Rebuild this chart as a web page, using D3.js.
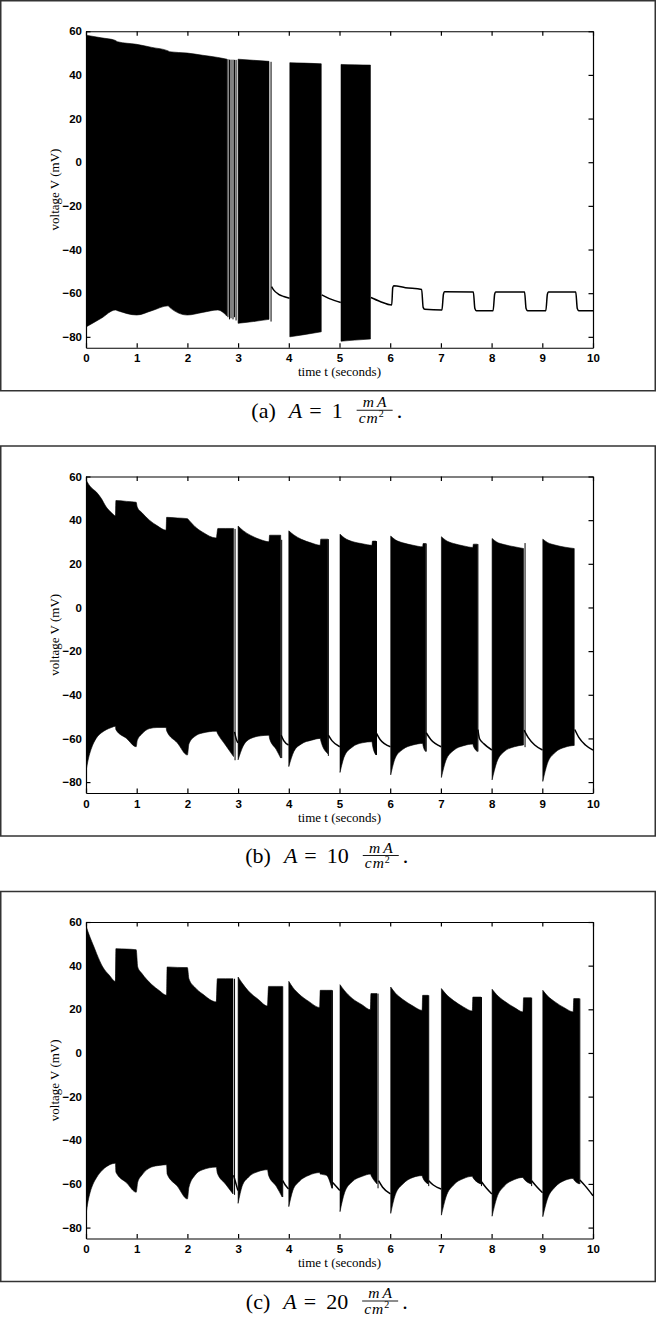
<!DOCTYPE html>
<html>
<head>
<meta charset="utf-8">
<script src="https://cdnjs.cloudflare.com/ajax/libs/d3/7.8.5/d3.min.js"></script>
<style>
body { margin: 0; background: #fff; }
svg { display: block; }
</style>
</head>
<body>
<div id="chart"></div>
<script>
// axis ticks and labels
var xTicks = [0, 1, 2, 3, 4, 5, 6, 7, 8, 9, 10];
var yTicks = [-80, -60, -40, -20, 0, 20, 40, 60];
var xLabel = "time t (seconds)";
var yLabel = "voltage V (mV)";
var panelLetters = ["a", "b", "c"];
var amplitudes = ["1", "10", "20"];

// bursting regions: [t, lower envelope, upper envelope]
var burstsA = [
	[[0, -75.5, 58.2], [0.3, -71.5, 57], [0.58, -67.7, 55.8], [0.62, -68, 55.2], [1.0, -70, 54], [1.3, -68, 52.6], [1.62, -65.8, 51], [1.65, -66.5, 50.6], [2.0, -70, 50], [2.3, -68.8, 49], [2.6, -67.7, 48], [2.78, -70.5, 47.2]],
	[[3.0, -73.8, 47.2], [3.3, -73, 46.7], [3.61, -72, 46.2]],
	[[4.02, -80, 45.6], [4.3, -79, 45.4], [4.64, -77.7, 45.1]],
	[[5.03, -82, 44.8], [5.3, -81.5, 44.6], [5.61, -81, 44.5]]
];
var quietA = [
	[[3.66, -57], [3.7, -58.5], [3.8, -60.5], [3.9, -61.5], [4.015, -62.3]],
	[[4.65, -60.8], [4.8, -62.5], [5.025, -64.3]],
	[[5.62, -62], [5.8, -63.8], [6.03, -65.4], [6.05, -57.5], [6.07, -56.6], [6.3, -57.5], [6.62, -58.3], [6.65, -66.5], [6.68, -67.4], [7.02, -67.7], [7.05, -60.5], [7.07, -59.4], [7.64, -59.5], [7.67, -67], [7.7, -68], [8.03, -68], [8.06, -60.5], [8.08, -59.5], [8.65, -59.5], [8.68, -67], [8.71, -68], [9.07, -68], [9.1, -60.5], [9.12, -59.5], [9.66, -59.5], [9.69, -67], [9.72, -68], [10, -68]]
];
var spikesA = [[2.8, -71, 47.2], [2.83, -72, 47], [2.86, -71.5, 47], [2.9, -72, 47], [2.93, -71, 46.9], [2.96, -72.5, 46.9], [3.65, -73, 46]];

var burstsB = [
	[[0, -75, 58.5], [0.05, -69, 56.5], [0.1, -65, 55], [0.2, -60, 53], [0.3, -57.5, 50], [0.4, -56, 46], [0.5, -55, 43.5], [0.58, -54.4, 42], [0.59, -56, 49], [0.8, -60, 48.6], [0.99, -63.8, 48.2], [1.01, -61, 46], [1.1, -58, 43.5], [1.25, -55.5, 40], [1.4, -55, 37.5], [1.58, -55, 35.4], [1.59, -56.5, 41.3], [1.8, -62, 41], [2.0, -67.6, 40.7], [2.03, -62.5, 40], [2.15, -59, 37], [2.3, -57.5, 34.5], [2.57, -56.7, 31.8], [2.6, -58, 36.2], [2.75, -63, 36.2], [2.91, -68.3, 36.2]],
	[[3.0, -69.8, 37.3], [3.1, -63.5, 35.2], [3.25, -60, 33], [3.45, -58.8, 31], [3.61, -58.5, 30.1], [3.62, -60, 33.1], [3.75, -65, 33.1], [3.84, -69, 33.1]],
	[[4.0, -72.9, 35.1], [4.1, -66, 33.2], [4.25, -62.5, 31.2], [4.45, -60.8, 29.5], [4.62, -60, 28.5], [4.63, -61, 31.3], [4.77, -67, 31.3]],
	[[5.01, -75.6, 33.6], [5.1, -68, 31.8], [5.25, -64, 30.2], [5.45, -62, 29.2], [5.64, -61.5, 28.5], [5.65, -63, 30.4], [5.72, -67.6, 30.4]],
	[[6.01, -76.7, 32.7], [6.1, -69, 31], [6.25, -65, 29.6], [6.45, -63, 28.5], [6.64, -62.3, 27.8], [6.65, -63.5, 29.3], [6.7, -66, 29.3]],
	[[7.01, -77.9, 32.4], [7.1, -70, 30.7], [7.25, -65.5, 29.3], [7.45, -63.3, 28.2], [7.63, -62.6, 27.5], [7.64, -63.5, 29], [7.72, -66, 29]],
	[[8.01, -79, 31.6], [8.1, -71, 30], [8.25, -66, 28.8], [8.45, -63.8, 27.8], [8.63, -63, 27]],
	[[9.01, -79.7, 31.3], [9.1, -71.5, 29.8], [9.25, -66.5, 28.6], [9.45, -64, 27.6], [9.63, -63.2, 27]]
];
var quietB = [
	[[2.93, -57], [2.96, -60], [2.995, -62]],
	[[3.85, -58.5], [3.9, -61], [3.995, -63]],
	[[4.78, -58.5], [4.85, -61], [5.005, -63.8]],
	[[5.73, -57.7], [5.8, -60.5], [6.005, -63.8]],
	[[6.71, -57.4], [6.8, -60.5], [7.005, -63.8]],
	[[7.73, -56], [7.76, -60], [7.85, -62.5], [8.005, -65.3]],
	[[8.64, -56.2], [8.72, -59.5], [8.85, -63], [9.005, -65.3]],
	[[9.64, -55.9], [9.72, -59.5], [9.85, -63], [10, -65.3]]
];
var spikesB = [[2.94, -70, 36], [3.86, -69, 31], [4.78, -68, 31.3], [5.73, -67.6, 30.4], [6.71, -66, 29.3], [7.73, -66, 29], [8.66, -64, 29.5]];

var burstsC = [
	[[0, -74, 58.5], [0.04, -68, 55.5], [0.08, -64, 53], [0.15, -59.5, 49], [0.21, -57, 45.5], [0.33, -53.5, 39.4], [0.46, -51.3, 35.6], [0.58, -50.5, 32.8], [0.59, -54.6, 47.8], [0.8, -59.5, 47.6], [0.99, -63.8, 47.3], [1.02, -59.2, 39.4], [1.1, -56, 36.5], [1.29, -52.3, 31.5], [1.45, -51.5, 28.5], [1.59, -51.2, 26.4], [1.6, -55.4, 39.4], [1.8, -61, 39.2], [2.0, -66.9, 39.1], [2.03, -61.5, 34], [2.15, -56, 30], [2.3, -53.5, 27], [2.57, -52.3, 23.4], [2.59, -55, 34], [2.75, -60, 34], [2.9, -64.6, 34]],
	[[3.0, -68.9, 34.8], [3.08, -61, 32], [3.2, -57, 28.5], [3.4, -54.3, 24.5], [3.58, -53.5, 21.5], [3.6, -56, 30.5], [3.75, -61, 30.5], [3.87, -66, 30.5]],
	[[4.0, -70.4, 32.8], [4.08, -63, 30], [4.2, -59, 27], [4.4, -56, 23.5], [4.61, -54.8, 20.8], [4.62, -55.5, 28.7], [4.74, -56, 28.7], [4.85, -62, 28.7]],
	[[5.01, -72.7, 31.3], [5.1, -64, 28.5], [5.25, -59, 25], [5.45, -56.5, 22], [5.61, -55.5, 19.8], [5.62, -56, 27.2], [5.74, -60, 27.2]],
	[[6.01, -73.5, 30.2], [6.1, -65, 27.5], [6.25, -60, 24.5], [6.45, -57, 21.5], [6.63, -56.2, 19.5], [6.64, -57, 26.4], [6.75, -60, 26.4]],
	[[7.01, -74.3, 29.5], [7.1, -66, 27], [7.25, -60.5, 24], [7.45, -57.5, 21], [7.62, -56.5, 19.2], [7.63, -57, 25.6], [7.79, -60, 25.6]],
	[[8.01, -74.8, 29.2], [8.1, -66.5, 26.7], [8.25, -61, 23.8], [8.45, -58, 20.8], [8.62, -57, 18.8], [8.63, -57.5, 25.3], [8.78, -60, 25.3]],
	[[9.01, -75, 28.7], [9.1, -67, 26.2], [9.25, -61.5, 23.4], [9.45, -58.3, 20.5], [9.61, -57.5, 18.8], [9.62, -58, 24.9], [9.73, -60, 24.9]]
];
var quietC = [
	[[2.91, -56], [2.96, -60], [2.995, -63]],
	[[3.88, -58.5], [3.93, -60.5], [3.995, -62.3]],
	[[4.86, -59.2], [4.95, -61.5], [5.005, -63]],
	[[5.77, -58.5], [5.85, -61.5], [6.005, -64.6]],
	[[6.76, -58.5], [6.85, -60.5], [7.005, -62.3]],
	[[7.8, -59], [7.9, -62], [8.005, -64.6]],
	[[8.79, -58.5], [8.9, -61.5], [9.005, -64]],
	[[9.74, -58.2], [9.85, -61], [10, -65.4]]
];
var spikesC = [[2.93, -65, 34], [3.88, -66, 30.5], [4.86, -62, 28.7], [5.76, -62, 27.2], [6.76, -61, 26.4], [7.8, -61, 25.6], [8.79, -61, 25.3], [9.74, -60, 24.9]];

var panels = [
	{ bursts: burstsA, quiet: quietA, spikes: spikesA },
	{ bursts: burstsB, quiet: quietB, spikes: spikesB },
	{ bursts: burstsC, quiet: quietC, spikes: spikesC }
];

var width = 657, height = 1318;
var panelTops = [0.75, 446, 891.5];
var plot = { left: 86, right: 593, top: 30.5, bottom: 347 };

var svg = d3.select("#chart").append("svg")
	.attr("width", width).attr("height", height);

var x = d3.scaleLinear().domain([0, 10]).range([plot.left, plot.right]);
var y = d3.scaleLinear().domain([-85, 60]).range([plot.bottom, plot.top]);

var area = d3.area()
	.x(function (d) { return x(d[0]); })
	.y0(function (d) { return y(d[1]); })
	.y1(function (d) { return y(d[2]); })
	.curve(d3.curveMonotoneX);

var line = d3.line()
	.x(function (d) { return x(d[0]); })
	.y(function (d) { return y(d[1]); })
	.curve(d3.curveMonotoneX);

svg.append("clipPath").attr("id", "plotclip").append("rect")
	.attr("x", plot.left).attr("y", plot.top)
	.attr("width", plot.right - plot.left).attr("height", plot.bottom - plot.top);

function styleAxis(sel) {
	sel.attr("font-family", null).attr("font-size", null);
	sel.selectAll("path, line").attr("stroke", "#000").attr("stroke-width", 1.2);
	sel.selectAll("text")
		.attr("fill", "#000")
		.style("font-family", "'Liberation Sans', Arial, sans-serif")
		.style("font-weight", "bold")
		.style("font-size", "11.5px");
}

panels.forEach(function (p, i) {
	var g = svg.append("g").attr("transform", "translate(0," + panelTops[i] + ")");

	// outer frame
	g.append("rect")
		.attr("x", 0.75).attr("y", 0)
		.attr("width", 654.5).attr("height", 390)
		.attr("fill", "none").attr("stroke", "#333").attr("stroke-width", 1.5);

	var marks = g.append("g").attr("clip-path", "url(#plotclip)");

	marks.selectAll(".burst").data(p.bursts).enter().append("path")
		.attr("class", "burst")
		.attr("d", area)
		.attr("fill", "#000").attr("stroke", "#000").attr("stroke-width", 0.6);

	marks.selectAll(".spike").data(p.spikes).enter().append("line")
		.attr("class", "spike")
		.attr("x1", function (d) { return x(d[0]); })
		.attr("x2", function (d) { return x(d[0]); })
		.attr("y1", function (d) { return y(d[1]); })
		.attr("y2", function (d) { return y(d[2]); })
		.attr("stroke", "#000").attr("stroke-width", 1);

	marks.selectAll(".quiet").data(p.quiet).enter().append("path")
		.attr("class", "quiet")
		.attr("d", line)
		.attr("fill", "none").attr("stroke", "#000").attr("stroke-width", 1.5);

	// box axes, ticks pointing inward
	g.append("g").attr("transform", "translate(0," + plot.bottom + ")")
		.call(d3.axisBottom(x).tickValues(xTicks).tickSize(-4.5).tickSizeOuter(0).tickPadding(6.5).tickFormat(d3.format("d")))
		.call(styleAxis);
	g.append("g").attr("transform", "translate(" + plot.left + ",0)")
		.call(d3.axisLeft(y).tickValues(yTicks).tickSize(-4.5).tickSizeOuter(0).tickPadding(4).tickFormat(d3.format("d")))
		.call(styleAxis);
	g.append("g").attr("transform", "translate(0," + plot.top + ")")
		.call(d3.axisTop(x).tickValues(xTicks).tickSize(-4.5).tickSizeOuter(0).tickFormat(""))
		.call(styleAxis);
	g.append("g").attr("transform", "translate(" + plot.right + ",0)")
		.call(d3.axisRight(y).tickValues(yTicks).tickSize(-4.5).tickSizeOuter(0).tickFormat(""))
		.call(styleAxis);

	g.append("text")
		.attr("x", (plot.left + plot.right) / 2).attr("y", plot.bottom + 28.5)
		.attr("text-anchor", "middle")
		.style("font-family", "'Liberation Serif', 'Times New Roman', serif")
		.style("font-size", "13px")
		.text(xLabel);

	g.append("text")
		.attr("transform", "translate(59," + ((plot.top + plot.bottom) / 2) + ") rotate(-90)")
		.attr("text-anchor", "middle")
		.style("font-family", "'Liberation Serif', 'Times New Roman', serif")
		.style("font-size", "13px")
		.text(yLabel);

	// caption: (a) A = 1 mA/cm^2.
	drawCaption(svg, panelLetters[i], amplitudes[i], panelTops[i] + 390 + 27);
});

function drawCaption(parent, letter, amp, base) {
	var cg = parent.append("g").style("font-family", "'Liberation Serif', 'Times New Roman', serif");
	var cursor = 0;
	function piece(txt, italic, gapAfter) {
		var t = cg.append("text").attr("x", cursor).attr("y", base)
			.style("font-size", "22px")
			.style("font-style", italic ? "italic" : "normal")
			.text(txt);
		cursor += t.node().getComputedTextLength() + gapAfter;
	}
	piece("(" + letter + ")", false, 13);
	piece("A", true, 7);
	piece("=", false, 10);
	piece(amp, false, 14);

	var fw = 36, barY = base - 7.5;
	cg.append("text").attr("x", cursor + fw / 2).attr("y", barY - 3)
		.attr("text-anchor", "middle")
		.style("font-size", "15.5px").style("font-style", "italic")
		.text("m\u2009A");
	cg.append("line")
		.attr("x1", cursor).attr("x2", cursor + fw)
		.attr("y1", barY).attr("y2", barY)
		.attr("stroke", "#000").attr("stroke-width", 0.9);
	var den = cg.append("text").attr("x", cursor + 2).attr("y", barY + 12.5)
		.style("font-size", "15.5px").style("font-style", "italic");
	den.append("tspan").attr("letter-spacing", "1px").text("cm");
	den.append("tspan").attr("dy", -5.5).style("font-size", "10px").style("font-style", "normal").text("2");
	cursor += fw + 4;

	cg.append("text").attr("x", cursor).attr("y", base)
		.style("font-size", "22px").text(".");
	cursor += 6;

	cg.attr("transform", "translate(" + (327 - cursor / 2) + ",0)");
}
</script>
</body>
</html>
